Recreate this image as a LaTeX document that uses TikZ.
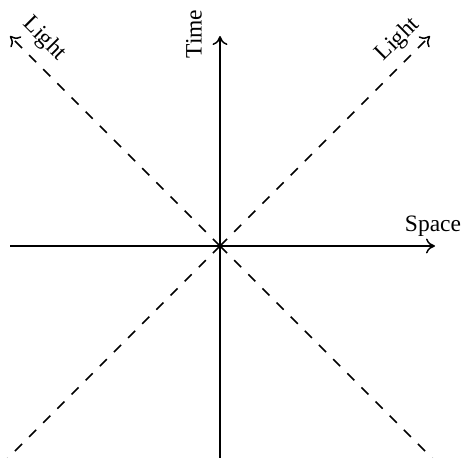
\documentclass[tikz,border=0pt]{standalone}
\usepackage{fontspec}
\setmainfont{Liberation Serif}
\usetikzlibrary{arrows.meta}
\begin{document}
\begin{tikzpicture}[x=1pt,y=-1pt,
  axis/.style={line width=1.5pt,-{To[length=9pt,width=15pt,line width=1.5pt]}},
  plainaxis/.style={line width=1.5pt},
  lightray/.style={line width=1.5pt,dash pattern=on 10pt off 10pt},
  lightarrow/.style={lightray,-{To[length=9pt,width=15pt,line width=1.5pt]}},
  lbl/.style={font=\fontsize{23.5}{27}\selectfont,inner sep=0pt}]
\useasboundingbox (0,0) rectangle (464,458);
\coordinate (O) at (220,246);
\coordinate (L) at (10,246);
\coordinate (R) at (435,246);
\coordinate (B) at (220,460);
\coordinate (T) at (220,36);
\coordinate (UL) at (10,36);
\coordinate (UR) at (430,36);
\coordinate (DL) at (6,460);
\coordinate (DR) at (434,460);
\draw[plainaxis] (O) -- (L);
\draw[axis] (O) -- (R);
\draw[plainaxis] (O) -- (B);
\draw[axis] (O) -- (T);
\draw[lightarrow] (O) -- (UL);
\draw[lightarrow] (O) -- (UR);
\draw[lightray] (O) -- (DL);
\draw[lightray] (O) -- (DR);
\node[lbl,rotate=90] (time) at (194,34) {Time};
\node[lbl] (space) at (433,226) {Space};
\node[lbl,rotate=-45] (lightl) at (44,39) {Light};
\node[lbl,rotate=45] (lightr) at (398,40) {Light};
\end{tikzpicture}
\end{document}
